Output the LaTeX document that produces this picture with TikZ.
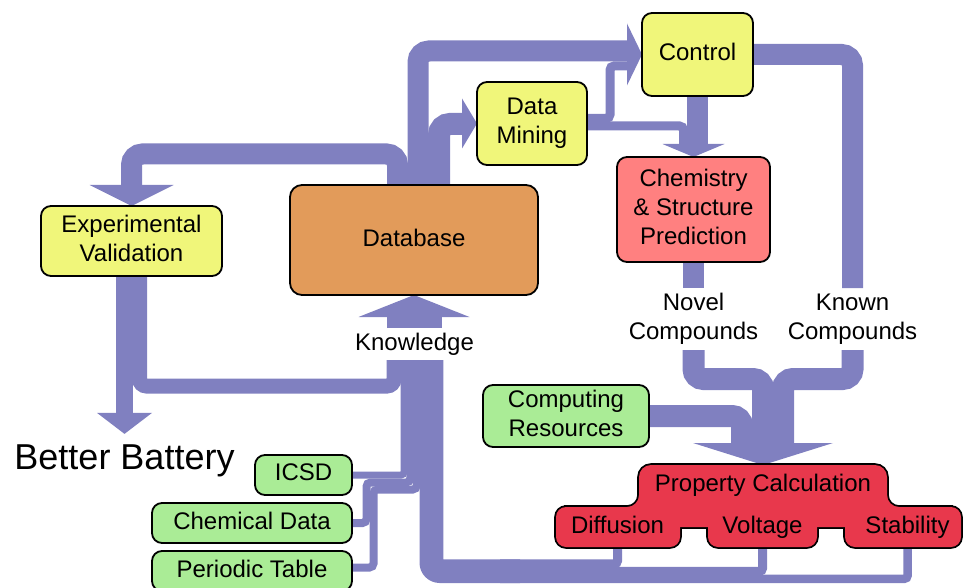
\documentclass[tikz,border=0pt]{standalone}
\usepackage{fontspec}
\setmainfont{Liberation Sans}
\usetikzlibrary{calc}

\definecolor{flow}{RGB}{128,128,192}
\definecolor{boxyellow}{RGB}{240,246,122}
\definecolor{boxorange}{RGB}{226,155,90}
\definecolor{boxpink}{RGB}{255,128,128}
\definecolor{boxred}{RGB}{232,56,76}
\definecolor{boxgreen}{RGB}{170,236,150}

\pgfdeclarelayer{bg}
\pgfsetlayers{bg,main}

% pieces of the merged "Property Calculation" shape
\newcommand\propparts[1]{%
  \path[#1,rounded corners=12pt] (639,465) rectangle (887,527);
  \path[#1,rounded corners=10pt] (556,507) rectangle (680,547);
  \path[#1,rounded corners=10pt] (708,507) rectangle (817,547);
  \path[#1,rounded corners=10pt] (845,507) rectangle (961,547);
  \path[#1] (566,507) rectangle (951,527);
  \path[#1] (639,495) -- (639,507) -- (627,507) arc[start angle=270,end angle=360,radius=12pt] -- cycle;
  \path[#1] (887,495) -- (887,507) -- (899,507) arc[start angle=270,end angle=180,radius=12pt] -- cycle;
}

\begin{document}
\begin{tikzpicture}[x=1pt,y=-1pt,
  every node/.style={inner sep=0pt,outer sep=0pt},
  txt/.style={font=\fontsize{24}{29}\selectfont,align=center},
  box/.style={txt,draw=black,line width=1.8pt,rounded corners=10pt},
  ybox/.style={box,fill=boxyellow},
  gbox/.style={box,fill=boxgreen},
  flowband/.style={draw=flow,line width=#1},
  head/.style={fill=flow}]
\useasboundingbox (0,0) rectangle (963,588);

% boxes
\node[ybox,minimum width=111pt,minimum height=83pt] (ctrl) at (697.5,54.5) {Control\vphantom{p}};
\node[ybox,minimum width=110pt,minimum height=83pt] (dm) at (532,123.5) {Data\\Mining};
\node[box,fill=boxpink,minimum width=153pt,minimum height=105pt] (chem) at (693.5,209.5) {Chemistry\\\& Structure\\Prediction\vphantom{p}};
\node[box,fill=boxorange,rounded corners=12pt,minimum width=248pt,minimum height=110pt] (db) at (414,240) {Database\vphantom{p}};
\node[ybox,minimum width=181pt,minimum height=70pt] (ev) at (131.5,241) {Experimental\\Validation\vphantom{p}};
\node[gbox,minimum width=166pt,minimum height=62pt] (comp) at (566,416) {Computing\\Resources\vphantom{p}};
\node[gbox,minimum width=97pt,minimum height=40pt] (icsd) at (303.5,475) {ICSD\vphantom{p}};
\node[gbox,minimum width=200pt,minimum height=40pt] (chemdata) at (252,523) {Chemical Data\vphantom{p}};
\node[gbox,minimum width=200pt,minimum height=40pt] (ptable) at (252,571) {Periodic Table\vphantom{p}};

% free labels
\node[txt,minimum height=62pt] (novel) at (693.5,319) {Novel\\Compounds};
\node[txt,minimum height=62pt] (known) at (852.5,319) {Known\\Compounds};
\node[txt,minimum height=32pt] (know) at (414.5,344) {Knowledge};
\node[font=\fontsize{36}{40}\selectfont] (bb) at (124.5,461) {Better Battery};

% property calculation block
\propparts{draw=black,line width=3.6pt}
\propparts{fill=boxred}
\node[txt,minimum height=41.5pt] (propcalc) at (763,485.75) {Property Calculation};
\node[txt,minimum height=40pt] (diff) at (617.5,527) {Diffusion\vphantom{p}};
\node[txt,minimum height=40pt] (volt) at (762.5,527) {Voltage};
\node[txt,minimum height=40pt] (stab) at (907.5,527) {Stability};

\begin{pgfonlayer}{bg}
% database -> experimental validation
\draw[flowband=21pt,rounded corners=11pt] ([xshift=-16.5pt]db.north) |- (131.5,154) -- (131.5,186);
\fill[head] (ev.north) -- ++(-42,-21) -- ++(84,0) -- cycle;

% database and data mining -> control
\draw[flowband=21pt,rounded corners=11pt] ([xshift=4pt]db.north) |- (628,51);
\draw[flowband=9pt,rounded corners=4pt] ([yshift=5pt]dm.east) -| (610,66) -- (628,66);
\fill[head] (ctrl.west) -- ++(-15,31) -- ++(0,-62) -- cycle;

% database -> data mining
\draw[flowband=22pt,rounded corners=11pt] ([xshift=25pt]db.north) |- (463,124);
\fill[head] (dm.west) -- ++(-15,25) -- ++(0,-50) -- cycle;

% data mining and control -> structure prediction
\draw[flowband=9pt,rounded corners=4pt] ([yshift=-2.5pt]dm.east) -| (683.5,145);
\draw[flowband=21pt] (ctrl.south) -- ++(0,50);
\fill[head] (chem.north) -- ++(-31,-13) -- ++(62,0) -- cycle;

% known and novel compounds
\draw[flowband=21pt,rounded corners=11pt] (ctrl.east) -| (known.north);
\draw[flowband=21pt] (chem.south) -- (novel.north);

% into property calculation
\draw[flowband=22pt,rounded corners=10pt] (novel.south) |- (763,379) -- (763,444);
\draw[flowband=22pt,rounded corners=10pt] (known.south) |- (783,379) -- (783,444);
\draw[flowband=22pt,rounded corners=10pt] (comp.east) -| (742,444);
\fill[head] (propcalc.north) -- ++(-70,-22) -- ++(140,0) -- cycle;

% property results back to the database
\draw[flowband=9pt,rounded corners=3pt] (diff.south) |- (500,563.75);
\draw[flowband=9pt,rounded corners=2pt] (520,563.75) -| ($(know.south)+(24.25,0)$);
\draw[flowband=9pt,rounded corners=3pt] (volt.south) |- (500,571.25);
\draw[flowband=9pt,rounded corners=9pt] (520,571.25) -| ($(know.south)+(16.75,0)$);
\draw[flowband=8.5pt,rounded corners=3pt] (stab.south) |- (500,578.75);
\draw[flowband=8.5pt,rounded corners=16pt] (520,578.75) -| ($(know.south)+(9.25,0)$);

% data sources
\draw[flowband=7pt,rounded corners=3pt] (icsd.east) -| ($(know.south)+(-10.5,0)$);
\draw[flowband=8pt,rounded corners=4pt] (chemdata.east) -| (366.5,482.5) -| ($(know.south)+(-4.25,0)$);
\draw[flowband=8pt,rounded corners=4pt] ([yshift=3.5pt]ptable.east) -| (373.5,489.5) -| ($(know.south)+(2.25,0)$);

% experimental validation outputs
\draw[flowband=15pt,rounded corners=7pt] ([xshift=8pt]ev.south) |- (394,386) -- ($(know.south)+(-20.5,0)$);
\draw[flowband=17pt] ([xshift=-7pt]ev.south) -- ++(0,138);
\fill[head] ([yshift=11pt]bb.north) -- ++(-27.5,-21) -- ++(55,0) -- cycle;

% knowledge -> database
\draw[flowband=55pt] (know.north) -- ++(0,-12);
\fill[head] (db.south) -- ++(-55.5,22) -- ++(111,0) -- cycle;
\end{pgfonlayer}
\end{tikzpicture}
\end{document}
